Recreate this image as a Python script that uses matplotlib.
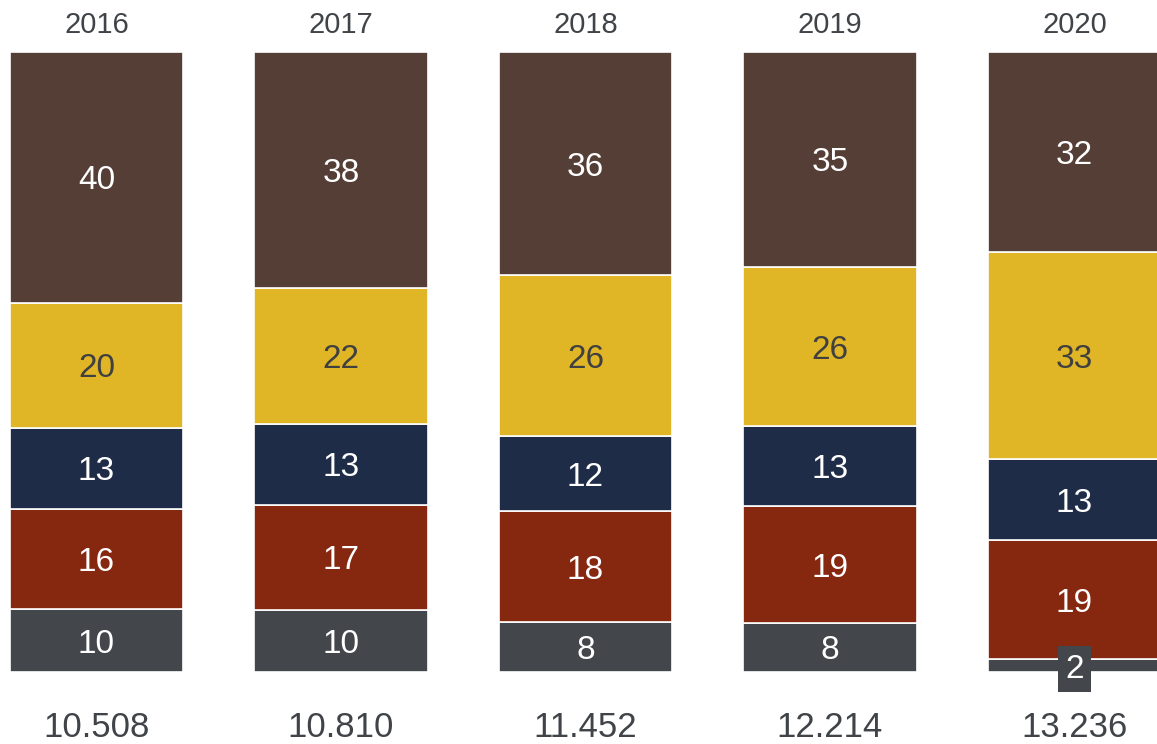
import matplotlib
matplotlib.use("Agg")
import matplotlib.pyplot as plt
import numpy as np

plt.rcParams['font.family'] = ['Liberation Sans', 'DejaVu Sans']

# --- data ---------------------------------------------------------
years = ["2016", "2017", "2018", "2019", "2020"]
totals = ["10.508", "10.810", "11.452", "12.214", "13.236"]

# segments from bottom to top
seg_gray = [10, 10, 8, 8, 2]
seg_red = [16, 17, 18, 19, 19]
seg_navy = [13, 13, 12, 13, 13]
seg_yellow = [20, 22, 26, 26, 33]
seg_brown = [40, 38, 36, 35, 32]

series = [seg_gray, seg_red, seg_navy, seg_yellow, seg_brown]
colors = ['#43464A', '#862710', '#1F2C48', '#E1B626', '#553E36']
text_colors = ['white', 'white', 'white', '#404040', 'white']

# --- plot ---------------------------------------------------------
fig = plt.figure(figsize=(11.57, 7.44), dpi=100)
ax = fig.add_axes([0, 72 / 744, 1, 620 / 744])

x = np.arange(len(years))
data = np.array(series, dtype=float)
sums = data.sum(axis=0)
shares = data / sums

bottom = np.zeros(len(years))
for vals, share, col, tcol in zip(series, shares, colors, text_colors):
    ax.bar(x, share, bottom=bottom, width=0.7076, color=col,
           edgecolor='white', linewidth=1.2)
    for i in range(len(years)):
        yc = bottom[i] + share[i] / 2
        if share[i] < 0.05:
            # thin segment: label gets its own box
            ax.text(x[i], yc, str(vals[i]), ha='center', va='center_baseline',
                    fontsize=24, color='white', clip_on=False,
                    bbox=dict(boxstyle='square,pad=0.22', facecolor=col,
                              edgecolor='none'))
        else:
            ax.text(x[i], yc, str(vals[i]), ha='center', va='center_baseline',
                    fontsize=24, color=tcol)
    bottom += share

for i in range(len(years)):
    ax.text(x[i], 1.049, years[i], ha='center', va='center_baseline',
            fontsize=21, color='#404448', clip_on=False)
    ax.text(x[i], -0.084, totals[i], ha='center', va='center_baseline',
            fontsize=25, color='#404448', clip_on=False)

ax.set_xlim(-96.5 / 244.5, (1157 - 96.5) / 244.5)
ax.set_ylim(0, 1)
ax.axis('off')

fig.savefig("out.png", dpi=100)
